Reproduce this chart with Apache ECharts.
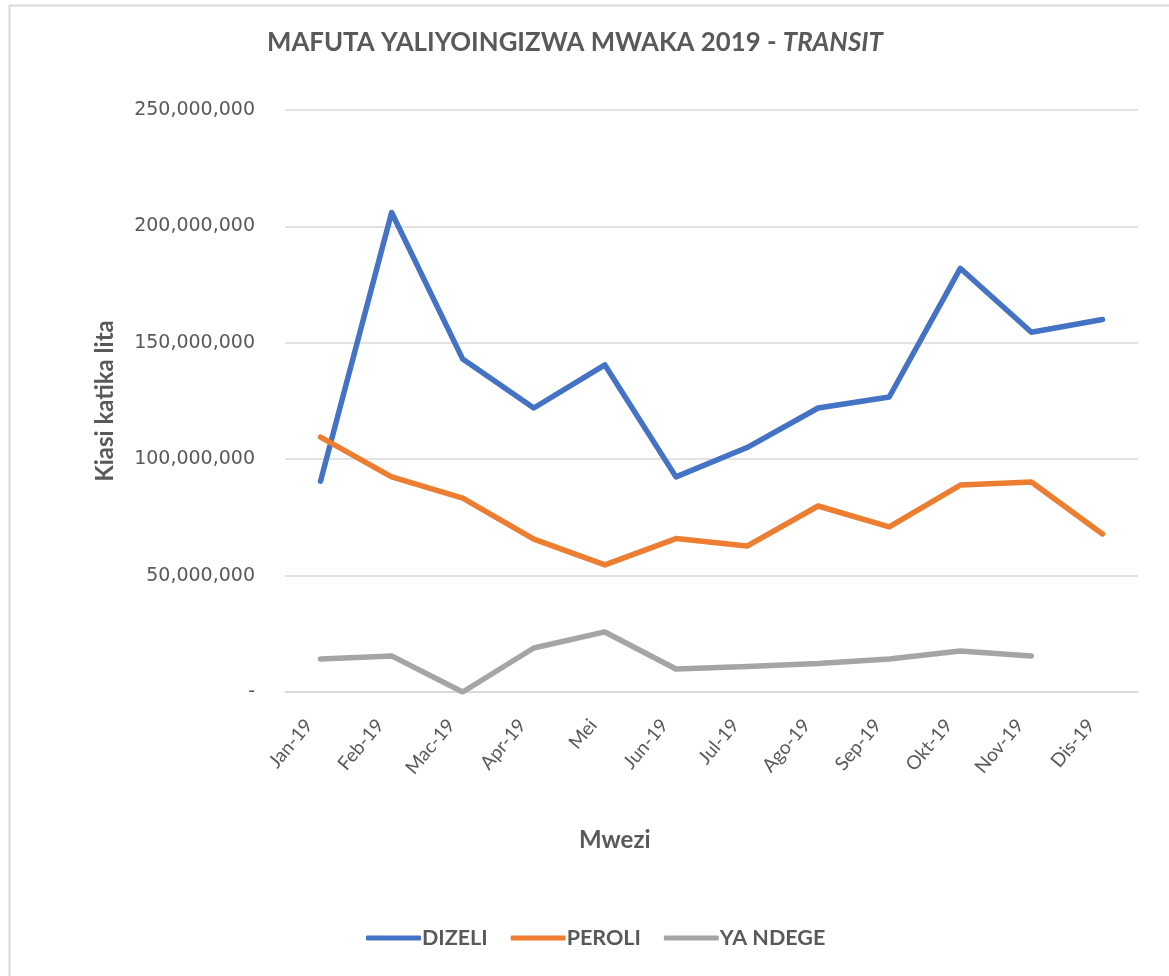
<!DOCTYPE html>
<html>
<head>
<meta charset="utf-8">
<script src="https://cdn.jsdelivr.net/npm/echarts@6/dist/echarts.min.js"></script>
<style>
html,body{margin:0;padding:0;background:#fff;}
#chart{width:1169px;height:976px;}
</style>
</head>
<body>
<div id="chart"></div>
<script>
const categories = ['Jan-19','Feb-19','Mac-19','Apr-19','Mei','Jun-19','Jul-19','Ago-19','Sep-19','Okt-19','Nov-19','Dis-19'];
const dizeli = [90600000, 206000000, 143000000, 122000000, 140500000, 92400000, 105000000, 122000000, 126700000, 182000000, 154500000, 160000000];
const peroli = [109500000, 92400000, 83300000, 65700000, 54600000, 65900000, 62700000, 79900000, 70900000, 88900000, 90200000, 67900000];
const yaNdege = [14200000, 15500000, 0, 18900000, 25800000, 9900000, 11000000, 12200000, 14200000, 17600000, 15500000, null];
const seriesNames = ['DIZELI', 'PEROLI', 'YA NDEGE'];
const colors = ['#4472C4', '#ED7D31', '#A5A5A5'];

const font = 'Lato, "Open Sans", sans-serif';
const numFont = '"DejaVu Sans", sans-serif';
const chart = echarts.init(document.getElementById('chart'), null, {renderer: 'canvas'});

function fmt(v){
  if (v === 0) return '-';
  return v.toLocaleString('en-US');
}

const mkSeries = (name, data, color) => ({
  name, type: 'line', data, showSymbol: false, symbol: 'none',
  connectNulls: false,
  lineStyle: {width: 5.5, color, cap: 'round', join: 'round'},
  itemStyle: {color}
});

chart.setOption({
  animation: false,
  color: colors,
  title: {
    text: '{b|MAFUTA YALIYOINGIZWA MWAKA 2019 - }{i|TRANSIT}',
    left: 262, top: 25,
    textStyle: {
      rich: {
        b: {fontFamily: font, fontWeight: 'bold', fontSize: 25.8, color: '#595959'},
        i: {fontFamily: font, fontWeight: 'bold', fontStyle: 'italic', fontSize: 25.8, color: '#595959'}
      }
    }
  },
  graphic: [
    {type: 'rect', left: 7, top: 3, shape: {width: 1300, height: 1100}, style: {fill: 'none', stroke: '#d9d9d9', lineWidth: 2}, silent: true, z: -1},
    {type: 'text', left: 579, top: 828, style: {text: 'Mwezi', font: 'bold 24px ' + font, fill: '#595959'}}
  ],
  legend: {
    bottom: 22, left: 361,
    itemWidth: 55, itemHeight: 5, itemGap: 23,
    icon: 'roundRect',
    textStyle: {fontFamily: font, fontWeight: 'bold', fontSize: 21.5, color: '#595959', padding: [0,0,0,-4]},
    data: seriesNames
  },
  grid: {left: 285, right: 31, top: 110, bottom: 284, containLabel: false},
  xAxis: {
    type: 'category',
    data: categories,
    boundaryGap: true,
    axisLine: {show: true, lineStyle: {color: '#d9d9d9', width: 1.5}},
    axisTick: {show: false},
    axisLabel: {rotate: 50, fontFamily: font, fontSize: 19, color: '#595959', margin: 16, interval: 0, padding: [0, 18, 0, 0]}
  },
  yAxis: {
    type: 'value',
    min: 0, max: 250000000, interval: 50000000,
    name: 'Kiasi katika lita',
    nameLocation: 'middle',
    nameGap: 168,
    nameTextStyle: {fontFamily: font, fontWeight: 'bold', fontSize: 24, color: '#595959'},
    axisLine: {show: false},
    axisTick: {show: false},
    axisLabel: {formatter: fmt, fontFamily: numFont, fontSize: 19, color: '#595959', margin: 30},
    splitLine: {lineStyle: {color: '#d9d9d9', width: 1.5}}
  },
  series: [
    mkSeries(seriesNames[0], dizeli, colors[0]),
    mkSeries(seriesNames[1], peroli, colors[1]),
    mkSeries(seriesNames[2], yaNdege, colors[2])
  ]
});
</script>
</body>
</html>
